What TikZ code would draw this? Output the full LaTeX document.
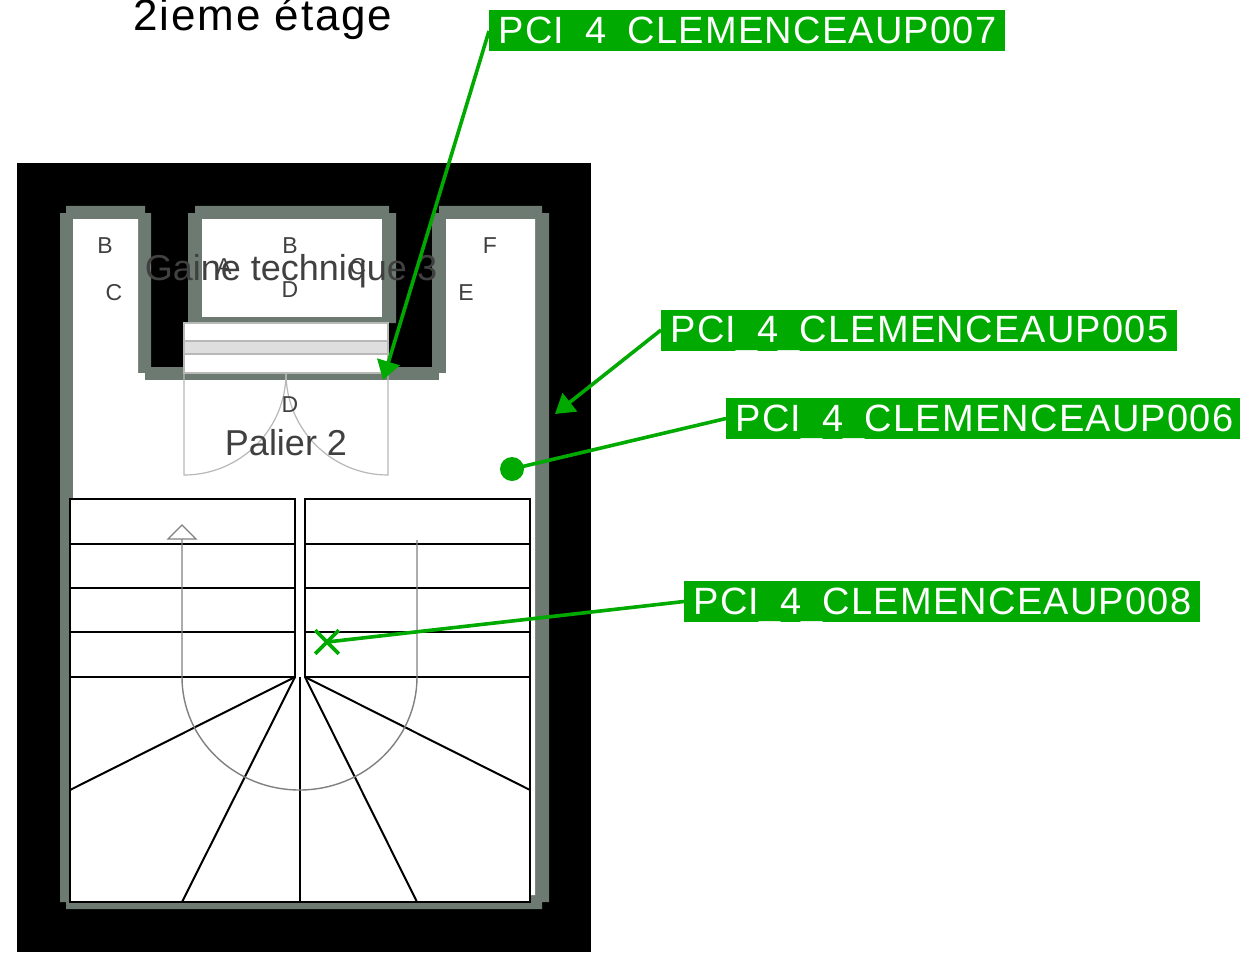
\documentclass[tikz,border=0pt]{standalone}
\usepackage{fontspec}
\setmainfont{Liberation Sans}
\newfontfamily\pcifont[LetterSpace=3.2]{Liberation Sans}
\newfontfamily\titlefont[LetterSpace=4.2]{Liberation Sans}
\usetikzlibrary{arrows.meta,shapes.misc}
\definecolor{wallgray}{HTML}{6C7A72}
\definecolor{pcigreen}{HTML}{00AA00}
\definecolor{textgray}{HTML}{404040}
\newcommand{\lowbar}{\raisebox{-1.2pt}{\_}}
\tikzset{
  tread/.style={black,line width=1.3pt},
  doorline/.style={color=black!28,line width=0.6pt},
  pathline/.style={color=black!50,line width=0.7pt},
  letter/.style={inner sep=0pt,text=textgray,font=\fontsize{11.5}{11.5}\selectfont},
  roomname/.style={anchor=base,inner sep=0pt,text=textgray,font=\fontsize{18}{18}\selectfont},
  pcilabel/.style={anchor=west,fill=pcigreen,text=white,inner ysep=0pt,inner xsep=4.6pt,
    text height=16.7pt,text depth=3.8pt,font=\pcifont\fontsize{19}{19}\selectfont},
  pciline/.style={color=pcigreen,line width=1.8pt},
  pciarrow/.style={pciline,-{Triangle[length=9.5pt,width=11.5pt]}},
  pcidot/.style={circle,fill=pcigreen,inner sep=0pt,minimum size=12pt},
  pcicross/.style={cross out,draw=pcigreen,line width=1.8pt,inner sep=0pt,minimum size=10pt}
}
\begin{document}
\begin{tikzpicture}[x=0.5pt,y=-0.5pt]
     \useasboundingbox (0,0) rectangle (1240,952);
     \fill[black] (17,163) rectangle (591,952);
     \fill[wallgray] (60,213) -- (66,213) -- (66,206) -- (145,206) -- (145,213) -- (151,213) -- (151,367)
        -- (188,367) -- (188,213) -- (195,213) -- (195,206) -- (389,206) -- (389,213) -- (396,213)
        -- (396,323) -- (388,323) -- (388,367) -- (432,367) -- (432,213) -- (439,213) -- (439,206)
        -- (542,206) -- (542,213) -- (549,213) -- (549,902) -- (542,902) -- (542,909) -- (66,909)
        -- (66,902) -- (60,902) -- cycle;
     \fill[white] (73,219) -- (138,219) -- (138,373) -- (145,373) -- (145,380) -- (439,380) -- (439,373)
        -- (446,373) -- (446,219) -- (535,219) -- (535,895) -- (530,895) -- (530,902) -- (73,902) -- cycle;
     \fill[wallgray] (145,373) rectangle (439,380);
     \fill[white] (202,219) rectangle (382,317);
     % door frame
     \begin{scope}
      \draw[doorline,fill=white] (184,323) rectangle (388,373);
      \draw[doorline,fill=black!13] (184,341) rectangle (388,354);
      \draw[doorline] (184,373) -- (184,475) arc[start angle=90,end angle=0,radius=102];
      \draw[doorline] (388,373) -- (388,475) arc[start angle=90,end angle=180,radius=102];
     \end{scope}
     % stairs
     \begin{scope}
      \fill[white] (70,499) rectangle (530,902);
      \draw[tread] (70,499) rectangle (295,677);
      \draw[tread] (305,499) rectangle (530,677);
      \foreach \y in {544,588,632} {
        \draw[tread] (70,\y) -- (295,\y);
        \draw[tread] (305,\y) -- (530,\y);
      }
      \draw[tread,line width=0.9pt] (70,677) -- (70,902) -- (530,902) -- (530,677);
      \draw[tread,line width=1pt] (295,677) -- (70,790);
      \draw[tread,line width=1pt] (295,677) -- (182,902);
      \draw[tread,line width=0.8pt] (300,677) -- (300,902);
      \draw[tread,line width=1pt] (305,677) -- (417,902);
      \draw[tread,line width=1pt] (305,677) -- (530,790);
      \draw[pathline] (182,539) -- (182,677) arc[start angle=180,end angle=0,x radius=117.5,y radius=113] -- (417,540);
      \draw[pathline,fill=white] (168,539) -- (182,525) -- (196,539) -- cycle;
     \end{scope}
     \node[letter] (letterB1) at (105,246) {B};
     \node[letter] (letterC1) at (114,293) {C};
     \node[letter] (letterA) at (224,267) {A};
     \node[letter] (letterB2) at (290,246) {B};
     \node[letter] (letterC2) at (358,267) {C};
     \node[letter] (letterD1) at (290,290) {D};
     \node[letter] (letterF) at (490,246) {F};
     \node[letter] (letterE) at (466,293) {E};
     \node[letter] (letterD2) at (290,405) {D};
     \node[roomname] (gaine) at (291,280) {Gaine technique 3};
     \node[roomname] (palier) at (286,455) {Palier 2};
     \node[anchor=base,inner sep=0pt,font=\titlefont\fontsize{22}{22}\selectfont] (title) at (263,30.5) {2ieme étage};
     \node[pcilabel] (pci007) at (489,31) {PCI\lowbar 4\lowbar CLEMENCEAUP007};
     \node[pcilabel] (pci005) at (661,330) {PCI\lowbar 4\lowbar CLEMENCEAUP005};
     \node[pcilabel] (pci006) at (726,418.5) {PCI\lowbar 4\lowbar CLEMENCEAUP006};
     \node[pcilabel] (pci008) at (684,601.5) {PCI\lowbar 4\lowbar CLEMENCEAUP008};
     \coordinate (tip007) at (383,380);
     \coordinate (tip005) at (555,414);
     \node[pcidot] (dot006) at (512,469) {};
     \node[pcicross] (cross008) at (327,642) {};
     \draw[pciarrow] (pci007.west) -- (tip007);
     \draw[pciarrow] (pci005.west) -- (tip005);
     \draw[pciline] (pci006.west) -- (dot006.center);
     \draw[pciline] (pci008.west) -- (cross008.center);
    \end{tikzpicture}
\end{document}
